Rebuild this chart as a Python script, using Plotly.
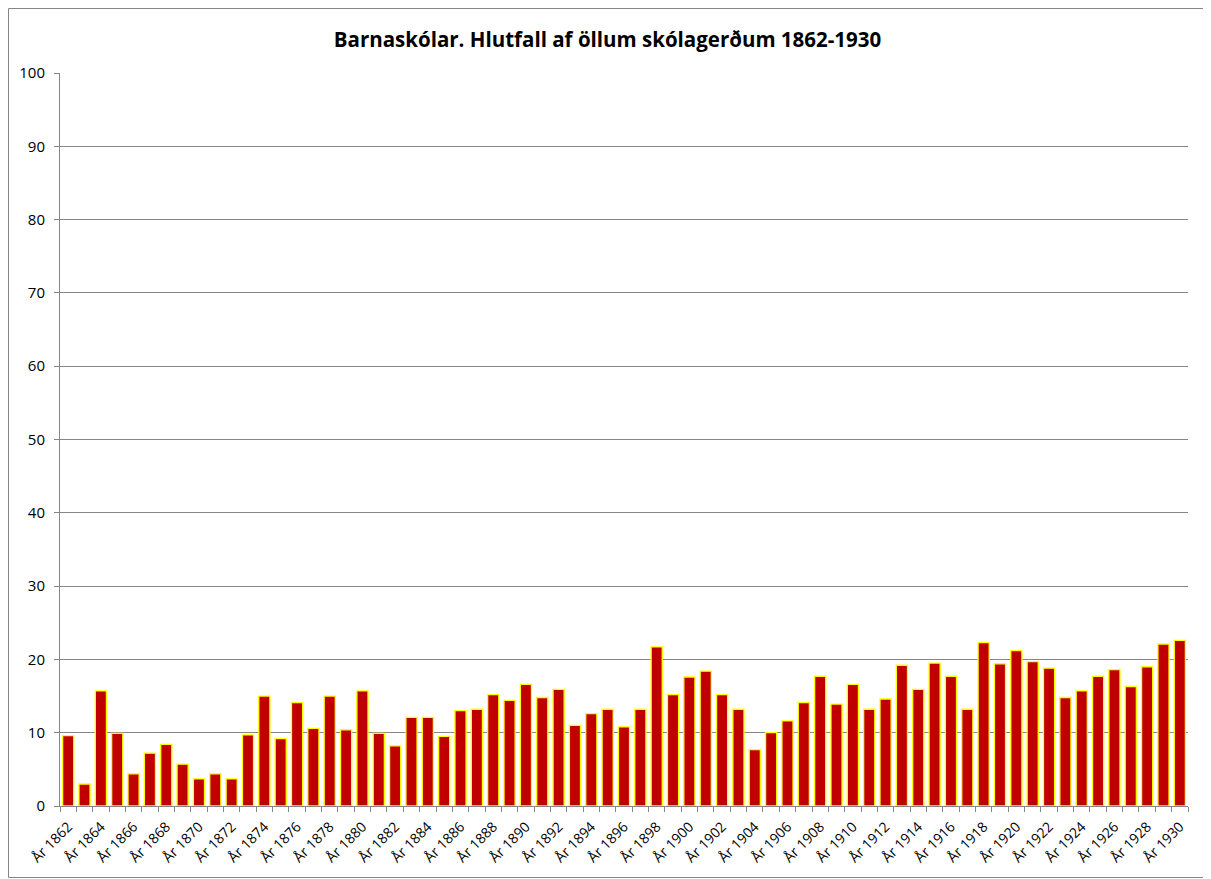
import plotly.graph_objects as go

years = list(range(1862, 1931))
values = [
    9.6, 3.0, 15.7, 9.9, 4.4, 7.2, 8.4, 5.7, 3.7, 4.4,
    3.7, 9.7, 15.0, 9.2, 14.1, 10.6, 15.0, 10.4, 15.7, 9.9,
    8.2, 12.1, 12.1, 9.5, 13.0, 13.2, 15.2, 14.4, 16.6, 14.8,
    15.9, 11.0, 12.6, 13.2, 10.8, 13.2, 21.7, 15.2, 17.6, 18.4,
    15.2, 13.2, 7.7, 10.0, 11.6, 14.1, 17.7, 13.9, 16.6, 13.2,
    14.6, 19.2, 15.9, 19.5, 17.7, 13.2, 22.3, 19.4, 21.2, 19.7,
    18.8, 14.8, 15.7, 17.7, 18.6, 16.3, 19.0, 22.1, 22.6,
]
label_years = years[::2]
tick_labels = ["År %d" % y for y in label_years]
title = "Barnaskólar. Hlutfall af öllum skólagerðum 1862-1930"

# page body has an 8px margin; figure is sized to fit the 1211x879 window
W, H = 1203, 871
L, R, T, B = 52, 23, 65, 73
pw, ph = W - L - R, H - T - B

FONT = "Open Sans, Lato, sans-serif"

fig = go.Figure(go.Bar(
    x=years, y=values,
    marker=dict(color="#C00000", line=dict(color="#FFFF00", width=1.3)),
    width=0.68,
))

fig.update_layout(
    width=W, height=H,
    margin=dict(l=L, r=R, t=T, b=B, autoexpand=False),
    paper_bgcolor="white", plot_bgcolor="white",
    font=dict(family=FONT, color="black", size=15),
    title=dict(text="<b>" + title + "</b>", x=599.5 / W, xanchor="center",
               y=1 - 32 / H, yanchor="middle",
               font=dict(size=20.5, family=FONT)),
    showlegend=False,
)
fig.update_xaxes(
    range=[1861.5, 1930.5],
    tickmode="array", tickvals=label_years, ticktext=tick_labels,
    tickangle=-45, ticks="", showgrid=False,
    showline=True, linecolor="#868686", linewidth=1,
    tickfont=dict(size=14), ticklabelstandoff=6,
    minor=dict(tickmode="linear", tick0=1861.5, dtick=1, ticks="outside",
               ticklen=5, tickcolor="#868686", showgrid=False),
)
fig.update_yaxes(
    range=[0, 100], dtick=10, tick0=0,
    showgrid=True, gridcolor="#868686", gridwidth=1,
    showline=True, linecolor="#868686", linewidth=1,
    ticks="outside", ticklen=5, tickcolor="#868686",
    tickfont=dict(size=15), zeroline=False, ticklabelstandoff=6,
)
# outer chart border
fig.add_shape(type="rect", xref="paper", yref="paper",
              x0=(0.5 - L) / pw, x1=(W - 1.5 - L) / pw,
              y0=-(H - 1.5 - T - ph) / ph, y1=1 + (T - 0.5) / ph,
              line=dict(color="#868686", width=1), fillcolor="rgba(0,0,0,0)",
              layer="below")

fig.write_html("out.html")
